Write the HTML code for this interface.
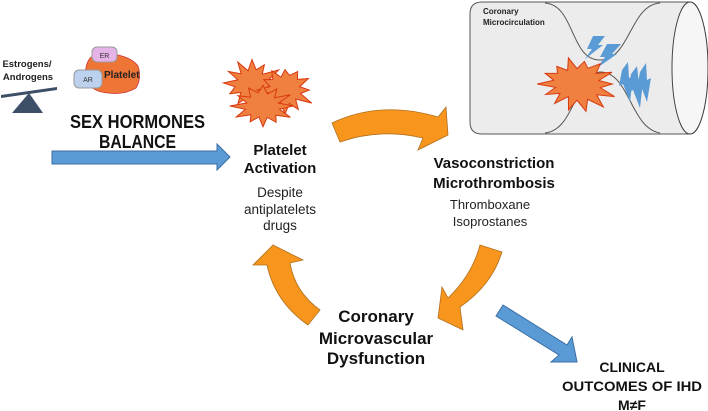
<!DOCTYPE html>
<html><head><style>
html,body{margin:0;padding:0;background:#fff;}
svg{display:block;}
text{font-family:"Liberation Sans",sans-serif;}
</style></head><body>
<svg id="s" width="708" height="411" viewBox="0 0 708 411" xmlns="http://www.w3.org/2000/svg">
<!-- cylinder -->
<path d="M482,2 L690,2 A18,66 0 0 1 690,134 L482,134 Q470,134 470,122 L470,14 Q470,2 482,2 Z" fill="#ececec" stroke="#555" stroke-width="1"/>
<ellipse cx="690" cy="68" rx="18" ry="66" fill="#f6f6f6" stroke="#444" stroke-width="1"/>
<path d="M545,3 C575,5 570,60 600,60 C630,60 630,5 660,3" fill="none" stroke="#555"/>
<path d="M545,133 C575,130 575,75 600,72 C630,72 630,128 660,133" fill="none" stroke="#555"/>
<text x="483" y="14" font-size="8" font-weight="bold" fill="#222">Coronary</text>
<text x="483" y="25" font-size="8" font-weight="bold" fill="#222">Microcirculation</text>
<!-- lightning -->
<g fill="#5b9bd5">
<polygon points="593,36 605,36 598,45 603,45 585,59 592,49 587,49"/>
<polygon points="607,44 621,44 612,54 617,54 597,68 605,57 600,57"/>
<polygon points="622,70 628,62 629,78 633,76 630,102 623,84 619,86"/>
<polygon points="631,74 637,66 639,84 643,82 640,108 633,90 629,92"/>
<polygon points="640,72 646,63 647,80 651,78 647,102 641,86 637,88"/>
</g>
<!-- activated platelets (filled by script) -->
<g id="plt" fill="#f08040" stroke="#d83a10" stroke-width="1"></g>
<!-- balance -->
<polygon points="1,95 57,87 57,90 1,98" fill="#3c4f66"/>
<polygon points="29,93 12,113 43,113" fill="#3c4f66"/>
<text x="27" y="67" font-size="9.5" font-weight="bold" text-anchor="middle" fill="#222">Estrogens/</text>
<text x="28" y="80" font-size="9.5" font-weight="bold" text-anchor="middle" fill="#222">Androgens</text>
<!-- platelet -->
<path d="M90,58 Q100,50 118,55 Q132,58 138,66 Q142,78 136,88 Q124,95 108,93 Q92,92 86,80 Q84,66 90,58 Z" fill="#ee7535" stroke="#c33" stroke-width="0.8"/>
<rect x="92" y="47" width="25" height="15" rx="5" fill="#e6b3e8" stroke="#999"/>
<text x="104.5" y="58" font-size="7" text-anchor="middle" fill="#333">ER</text>
<rect x="74" y="70" width="28" height="18" rx="5" fill="#bcd1ee" stroke="#999"/>
<text x="88" y="82" font-size="7" text-anchor="middle" fill="#333">AR</text>
<text x="104" y="78" font-size="10" font-weight="bold" fill="#222">Platelet</text>
<!-- SEX HORMONES -->
<text x="70" y="128" font-size="18" font-weight="bold" textLength="135" lengthAdjust="spacingAndGlyphs" fill="#111">SEX HORMONES</text>
<text x="99" y="148" font-size="18" font-weight="bold" textLength="77" lengthAdjust="spacingAndGlyphs" fill="#111">BALANCE</text>
<polygon points="52,151 217,151 217,144 230,157 217,170 217,164 52,164" fill="#5b9bd5" stroke="#3b6ea5" stroke-width="1"/>
<!-- platelet activation -->
<text x="280" y="155" font-size="15" font-weight="bold" text-anchor="middle" fill="#111">Platelet</text>
<text x="280" y="173" font-size="15" font-weight="bold" text-anchor="middle" fill="#111">Activation</text>
<text x="280" y="197" font-size="13.5" text-anchor="middle" fill="#222">Despite</text>
<text x="280" y="214" font-size="13.5" text-anchor="middle" fill="#222">antiplatelets</text>
<text x="280" y="230" font-size="13.5" text-anchor="middle" fill="#222">drugs</text>
<!-- top orange arrow -->
<path d="M332,123 Q380,100 438,117 L446,107 L448,135 L418,150 L423,138 Q380,128 340,142 Z" fill="#f7951d" stroke="#b07020" stroke-width="0.8"/>
<!-- Vasoconstriction -->
<text x="494" y="168" font-size="15" font-weight="bold" text-anchor="middle" fill="#111">Vasoconstriction</text>
<text x="494" y="188" font-size="15" font-weight="bold" text-anchor="middle" fill="#111">Microthrombosis</text>
<text x="490" y="209" font-size="13" text-anchor="middle" fill="#222">Thromboxane</text>
<text x="490" y="226" font-size="13" text-anchor="middle" fill="#222">Isoprostanes</text>
<!-- right orange arrow -->
<path d="M480,245 L502,252 Q492,285 460,307 L463,330 L438,318 L442,287 L448,298 Q472,275 480,245 Z" fill="#f7951d" stroke="#b07020" stroke-width="0.8"/>
<!-- left orange arrow -->
<path d="M308,325 L320,310 Q295,292 290,263 L303,260 L273,245 L253,265 L267,265 Q275,302 308,325 Z" fill="#f7951d" stroke="#b07020" stroke-width="0.8"/>
<!-- Coronary microvascular -->
<text x="376" y="322" font-size="17" font-weight="bold" text-anchor="middle" fill="#111">Coronary</text>
<text x="376" y="344" font-size="17" font-weight="bold" text-anchor="middle" fill="#111">Microvascular</text>
<text x="376" y="364" font-size="17" font-weight="bold" text-anchor="middle" fill="#111">Dysfunction</text>
<!-- blue diagonal -->
<polygon points="496,316 503,305 567,345 572,337 577,362 551,362 559,355" fill="#5b9bd5" stroke="#3b6ea5" stroke-width="1"/>
<!-- clinical -->
<text x="632" y="372" font-size="14" font-weight="bold" text-anchor="middle" fill="#111">CLINICAL</text>
<text x="632" y="391" font-size="14" font-weight="bold" text-anchor="middle" textLength="140" lengthAdjust="spacingAndGlyphs" fill="#111">OUTCOMES OF IHD</text>
<text x="632" y="410" font-size="14" font-weight="bold" text-anchor="middle" fill="#111">M≠F</text>
</svg>
<script>
(function(){
var g=document.getElementById('plt');var seed=7;
function r(){seed=(seed*9301+49297)%233280;return seed/233280;}
function star(cx,cy,rx,ry,n){var p=[];for(var i=0;i<n*2;i++){var a=i/(n*2)*Math.PI*2;var k=(i%2==0)?(0.9+0.3*r()):(0.55+0.15*r());p.push((cx+Math.cos(a)*rx*k).toFixed(1)+','+(cy+Math.sin(a)*ry*k).toFixed(1));}
var e=document.createElementNS('http://www.w3.org/2000/svg','polygon');e.setAttribute('points',p.join(' '));g.appendChild(e);}
star(252,83,26,22,12);star(285,90,26,22,12);star(263,106,28,20,12);
star(577,84,36,25,14);
})();
</script>
</body></html>
